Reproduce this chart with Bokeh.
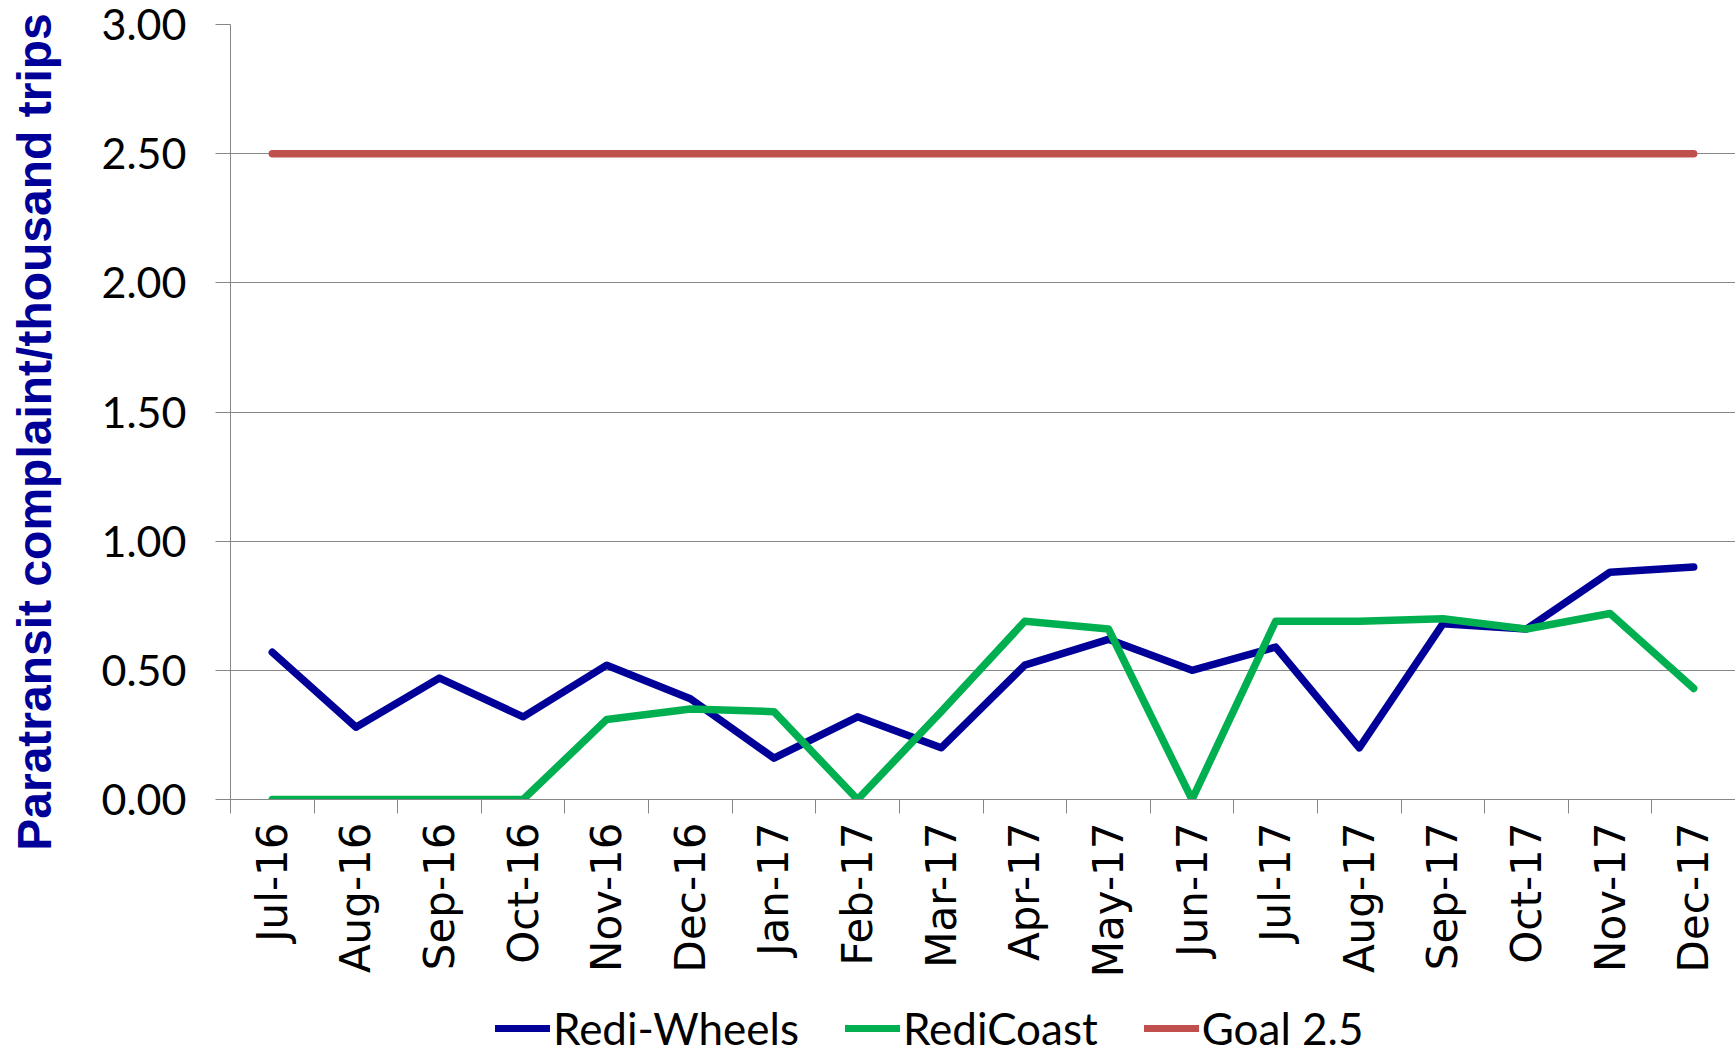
import math
from bokeh.plotting import figure
from bokeh.layouts import column
from bokeh.models import Range1d, FixedTicker, NumeralTickFormatter, Legend, LegendItem
from bokeh.embed import file_html
from bokeh.resources import INLINE

months = ["Jul-16", "Aug-16", "Sep-16", "Oct-16", "Nov-16", "Dec-16",
          "Jan-17", "Feb-17", "Mar-17", "Apr-17", "May-17", "Jun-17",
          "Jul-17", "Aug-17", "Sep-17", "Oct-17", "Nov-17", "Dec-17"]
redi_wheels = [0.57, 0.28, 0.47, 0.32, 0.52, 0.39, 0.16, 0.32, 0.20,
               0.52, 0.62, 0.50, 0.59, 0.20, 0.68, 0.66, 0.88, 0.90]
redi_coast = [0.0, 0.0, 0.0, 0.0, 0.31, 0.35, 0.34, 0.0, 0.34,
              0.69, 0.66, 0.0, 0.69, 0.69, 0.70, 0.66, 0.72, 0.43]
goal = [2.5] * 18
y_ticks = [0.0, 0.5, 1.0, 1.5, 2.0, 2.5, 3.0]
series_names = ["Redi-Wheels", "RediCoast", "Goal 2.5"]
series_colors = ["#000099", "#00B050", "#C0504D"]
y_title = "Paratransit complaint/thousand trips"

x = list(range(len(months)))
series = [redi_wheels, redi_coast, goal]
GRID = "#868686"

p = figure(width=1735, height=1000, output_backend="svg", toolbar_location=None,
           x_range=Range1d(-0.5, len(months) - 0.5), y_range=Range1d(0, 3),
           min_border_left=230, min_border_right=0, min_border_top=24,
           min_border_bottom=201)
p.outline_line_color = None
p.background_fill_color = "white"
p.border_fill_color = "white"

p.xgrid.grid_line_color = None
p.ygrid.ticker = FixedTicker(ticks=y_ticks)
p.ygrid.grid_line_color = GRID
p.ygrid.grid_line_width = 1

ya = p.yaxis[0]
ya.ticker = FixedTicker(ticks=y_ticks)
ya.formatter = NumeralTickFormatter(format="0.00")
ya.axis_line_color = GRID
ya.major_tick_line_color = GRID
ya.major_tick_out = 15
ya.major_tick_in = 0
ya.minor_tick_line_color = None
ya.major_label_standoff = 29
ya.major_label_text_font = "Lato"
ya.major_label_text_font_size = "43px"
ya.major_label_text_color = "black"
# trailing no-break spaces shift the visible text downward along the axis
ya.axis_label = y_title + "\u00a0\u00a0\u00a0"
ya.axis_label_text_font = "Liberation Sans"
ya.axis_label_text_font_style = "bold"
ya.axis_label_text_font_size = "48px"
ya.axis_label_text_color = "#000099"
ya.axis_label_standoff = 38

xa = p.xaxis[0]
xa.ticker = FixedTicker(ticks=x, minor_ticks=[i - 0.5 for i in range(len(months) + 1)])
xa.major_label_overrides = {i: m for i, m in enumerate(months)}
xa.axis_line_color = GRID
xa.major_tick_line_color = None
xa.major_tick_out = 0
xa.major_tick_in = 0
xa.minor_tick_line_color = GRID
xa.minor_tick_out = 14
xa.minor_tick_in = 0
xa.major_label_orientation = math.pi / 2
xa.major_label_standoff = 9
xa.major_label_text_font = "DejaVu Sans"
xa.major_label_text_font_size = "42px"
xa.major_label_text_color = "black"

for ys, c in zip(series, series_colors):
    p.line(x, ys, line_color=c, line_width=7.5, line_cap="round", line_join="round")

# legend strip below the chart (its frame is aligned with the chart's frame)
lf = figure(width=1735, height=54, output_backend="svg", toolbar_location=None,
            x_range=Range1d(100, 101), y_range=Range1d(100, 101),
            x_axis_location=None, y_axis_location=None, min_border=0)
lf.outline_line_color = None
lf.grid.grid_line_color = None
items = []
for name, ys, c in zip(series_names, series, series_colors):
    r = lf.line(x, ys, line_color=c, line_width=7, line_cap="round", line_join="round")
    items.append(LegendItem(label=name, renderers=[r]))
legend = Legend(items=items, orientation="horizontal", location=(265, 0),
                label_text_font="Lato", label_text_font_size="44px",
                label_text_color="black",
                glyph_width=55, glyph_height=30, label_standoff=3, spacing=46,
                padding=0, margin=0, border_line_color=None,
                background_fill_alpha=0)
lf.add_layout(legend)

layout = column(p, lf, spacing=0)
open("out.html", "w").write(file_html(layout, INLINE))
